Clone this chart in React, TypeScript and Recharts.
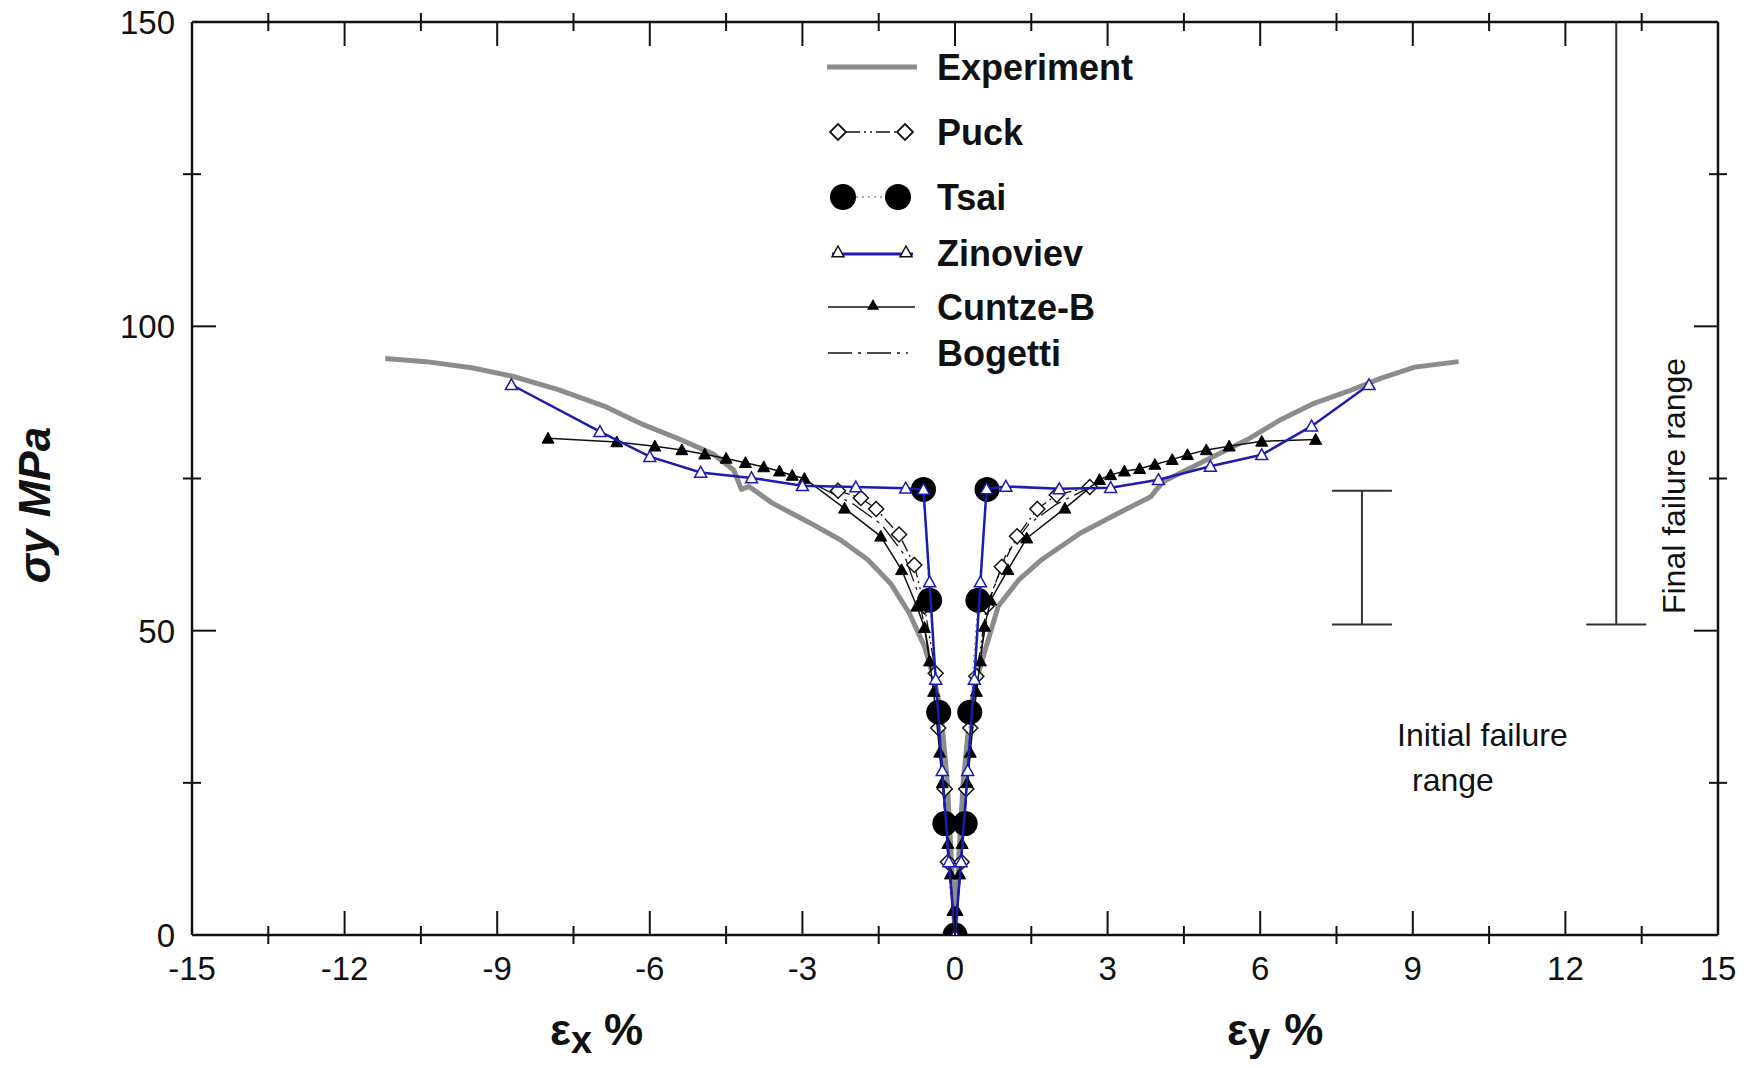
import React from "react";
import { ScatterChart, Scatter, XAxis, YAxis, ErrorBar } from "recharts";

const FONT = '"Liberation Sans", Arial, Helvetica, sans-serif';
const INK = "#111";
const BLUE = "#1c1cb0";
const GREY = "#8c8c8c";

// tick values
const xTicks = [-15, -13.5, -12, -10.5, -9, -7.5, -6, -4.5, -3, -1.5, 0, 1.5, 3, 4.5, 6, 7.5, 9, 10.5, 12, 13.5, 15];
const yTicks = [0, 25, 50, 75, 100, 125, 150];

// [strain %, stress MPa]; negative strain = eps_x branch, positive = eps_y branch
const experimentLeft = [
  [-11.2, 94.7], [-10.4, 94.2], [-9.5, 93.2], [-8.7, 91.8], [-7.8, 89.6], [-6.9, 86.9],
  [-6.2, 84.1], [-5.4, 81.4], [-4.75, 79], [-4.35, 76.4], [-4.2, 73.2], [-4.05, 73.7],
  [-3.6, 71], [-2.85, 67.7], [-2.25, 64.9], [-1.72, 61.7], [-1.27, 57.8], [-0.9, 52.9],
  [-0.6, 47.4], [-0.41, 42], [-0.28, 37], [-0.15, 25], [-0.07, 12], [0, 0],
];
const experimentRight = [
  [0.07, 12], [0.16, 25], [0.3, 37], [0.41, 41.5], [0.6, 47], [0.85, 54], [1.26, 58.4],
  [1.71, 61.7], [2.46, 66], [3.21, 69.3], [3.85, 72], [3.96, 73.2], [4.1, 74.5], [4.43, 75.9],
  [5.1, 78.7], [5.75, 81.4], [6.41, 84.7], [7.07, 87.4], [7.72, 89.3], [8.38, 91.5],
  [9.04, 93.3], [9.9, 94.2],
];

const puckLeft = [
  [-2.3, 73.0], [-1.85, 71.8], [-1.55, 70.0], [-1.1, 65.8], [-0.8, 60.8], [-0.6, 54],
  [-0.38, 43], [-0.33, 34], [-0.2, 24], [-0.14, 12], [0, 0],
];
const puckRight = [
  [0.13, 12], [0.22, 24], [0.3, 34], [0.42, 42.5], [0.62, 54], [0.92, 60.5], [1.22, 65.5],
  [1.62, 70], [2.0, 72.3], [2.65, 73.6],
];

const tsaiPoints = [
  [-0.62, 73.2], [-0.5, 55], [-0.32, 36.6], [-0.2, 18.3], [0, 0], [0.2, 18.3],
  [0.29, 36.6], [0.45, 55], [0.63, 73.2],
];

const zinovievLeft = [
  [-8.72, 90.4], [-6.98, 82.7], [-6.0, 78.6], [-5.0, 76.0], [-4.0, 75.1], [-3.0, 73.8],
  [-1.95, 73.6], [-0.97, 73.4], [-0.62, 73.2], [-0.5, 58], [-0.38, 42], [-0.25, 27],
  [-0.12, 12], [0, 0],
];
const zinovievRight = [
  [0.12, 12], [0.25, 27], [0.38, 42], [0.5, 58], [0.62, 73.3], [1.0, 73.7], [2.05, 73.3],
  [3.06, 73.5], [4.0, 74.8], [5.02, 77.0], [6.03, 78.9], [7.01, 83.6], [8.14, 90.4],
];

const cuntzeLeft = [
  [-8.0, 81.6], [-6.65, 81.0], [-5.9, 80.3], [-5.37, 79.7], [-4.92, 79.0], [-4.5, 78.3],
  [-4.12, 77.6], [-3.76, 76.9], [-3.45, 76.2], [-3.2, 75.5], [-2.96, 75.0], [-2.17, 70.1],
  [-1.46, 65.5], [-1.05, 60], [-0.75, 54], [-0.6, 50.5], [-0.5, 45], [-0.42, 40],
  [-0.3, 30], [-0.25, 25], [-0.14, 15], [-0.09, 10], [-0.04, 4], [0, 0],
];
const cuntzeRight = [
  [0.04, 4], [0.09, 10], [0.14, 15], [0.24, 25], [0.3, 30], [0.42, 40], [0.5, 45],
  [0.58, 50.7], [0.7, 55], [1.04, 60], [1.41, 65.2], [2.16, 70.1], [2.84, 74.8], [3.06, 75.6],
  [3.33, 76.2], [3.63, 76.6], [3.93, 77.3], [4.27, 78.1], [4.57, 78.9], [4.94, 79.7],
  [5.39, 80.3], [6.03, 81.1], [7.09, 81.4],
];

const bogettiLeft = [
  [-2.7, 73.8], [-2.0, 70.8], [-1.45, 67.5], [-1.0, 62.5], [-0.72, 56], [-0.52, 47],
  [-0.36, 36], [-0.22, 22], [-0.1, 10], [0, 0],
];
const bogettiRight = [
  [0.1, 10], [0.22, 22], [0.36, 36], [0.52, 47], [0.72, 56], [1.0, 62.5], [1.45, 67.5],
  [2.0, 70.8], [2.7, 73.8],
];

// [x, low, high]
const initialRange = [8, 51, 73];
const finalRange = [13, 51, 150];

const pts = (arr: number[][]) => arr.map(([x, y]) => ({ x, y }));
const rangePoint = ([x, lo, hi]: number[]) => ({ x, y: lo, err: [0, hi - lo] });

const experiment = pts([...experimentLeft, ...experimentRight]);
const puck = pts([...puckLeft, ...puckRight]);
const tsai = pts(tsaiPoints);
const zinoviev = pts([...zinovievLeft, ...zinovievRight]);
const cuntze = pts([...cuntzeLeft, ...cuntzeRight]);
const bogetti = pts([...bogettiLeft, ...bogettiRight]);
const ranges = [rangePoint(initialRange), rangePoint(finalRange)];

const isMajorX = (v: number) => Math.abs(v % 3) < 1e-6;
const isMajorY = (v: number) => Math.abs(v % 50) < 1e-6;

function BottomTick(props: any) {
  const { x, y, payload } = props;
  const major = isMajorX(payload.value);
  return (
    <g>
      {major ? (
        <line x1={x} x2={x} y1={y} y2={y - 24} stroke={INK} strokeWidth={2} />
      ) : (
        <line x1={x} x2={x} y1={y - 9} y2={y + 9} stroke={INK} strokeWidth={2} />
      )}
      {major && (
        <text x={x} y={y + 45} textAnchor="middle" fontSize={33} fontFamily={FONT} fill={INK}>
          {payload.value}
        </text>
      )}
    </g>
  );
}

function TopTick(props: any) {
  const { x, y, payload } = props;
  const major = isMajorX(payload.value);
  return major ? (
    <line x1={x} x2={x} y1={y} y2={y + 24} stroke={INK} strokeWidth={2} />
  ) : (
    <line x1={x} x2={x} y1={y - 9} y2={y + 9} stroke={INK} strokeWidth={2} />
  );
}

function LeftTick(props: any) {
  const { x, y, payload } = props;
  const major = isMajorY(payload.value);
  return (
    <g>
      {major ? (
        <line x1={x} x2={x + 24} y1={y} y2={y} stroke={INK} strokeWidth={2} />
      ) : (
        <line x1={x - 9} x2={x + 9} y1={y} y2={y} stroke={INK} strokeWidth={2} />
      )}
      {major && (
        <text x={x - 17} y={y + 12} textAnchor="end" fontSize={33} fontFamily={FONT} fill={INK}>
          {payload.value}
        </text>
      )}
    </g>
  );
}

function RightTick(props: any) {
  const { x, y, payload } = props;
  const major = isMajorY(payload.value);
  return major ? (
    <line x1={x} x2={x - 24} y1={y} y2={y} stroke={INK} strokeWidth={2} />
  ) : (
    <line x1={x - 9} x2={x + 9} y1={y} y2={y} stroke={INK} strokeWidth={2} />
  );
}

const Nothing = () => <g />;

const diamondPath = (cx: number, cy: number, s: number) =>
  `M${cx},${cy - s}L${cx + s},${cy}L${cx},${cy + s}L${cx - s},${cy}Z`;
const trianglePath = (cx: number, cy: number, s: number) =>
  `M${cx},${cy - s}L${cx + s},${cy + s * 0.8}L${cx - s},${cy + s * 0.8}Z`;

const Diamond = (p: any) => (
  <path d={diamondPath(p.cx, p.cy, 7.5)} fill="#fff" stroke={INK} strokeWidth={1.5} />
);
const Dot = (p: any) => <circle cx={p.cx} cy={p.cy} r={12.5} fill="#000" />;
const OpenTri = (p: any) => (
  <path d={trianglePath(p.cx, p.cy, 6)} fill="#fff" stroke={BLUE} strokeWidth={1.5} />
);
const FilledTri = (p: any) => <path d={trianglePath(p.cx, p.cy, 6)} fill="#000" stroke="#000" strokeWidth={1} />;

function Legend() {
  const textProps = { fontSize: 36, fontWeight: 700, fontFamily: FONT, fill: INK };
  const tx = 937;
  return (
    <g>
      <line x1={827} x2={917} y1={67} y2={67} stroke={GREY} strokeWidth={5} />
      <text x={tx} y={80} {...textProps}>Experiment</text>

      <line x1={846} x2={897} y1={132} y2={132} stroke={INK} strokeWidth={1.5} strokeDasharray="14 4 2 4 2 4" />
      <path d={diamondPath(838, 132, 8)} fill="#fff" stroke={INK} strokeWidth={1.8} />
      <path d={diamondPath(905, 132, 8)} fill="#fff" stroke={INK} strokeWidth={1.8} />
      <text x={tx} y={145} {...textProps}>Puck</text>

      <line x1={856} x2={885} y1={197} y2={197} stroke={GREY} strokeWidth={1.5} strokeDasharray="2 4" />
      <circle cx={843} cy={197} r={13} fill="#000" />
      <circle cx={898} cy={197} r={13} fill="#000" />
      <text x={tx} y={210} {...textProps}>Tsai</text>

      <line x1={832} x2={913} y1={254} y2={254} stroke={BLUE} strokeWidth={3} />
      <path d={trianglePath(838, 252, 6)} fill="#fff" stroke={INK} strokeWidth={1.5} />
      <path d={trianglePath(906, 252, 6)} fill="#fff" stroke={INK} strokeWidth={1.5} />
      <text x={tx} y={266} {...textProps}>Zinoviev</text>

      <line x1={828} x2={915} y1={307} y2={307} stroke={INK} strokeWidth={1.5} />
      <path d={trianglePath(873, 305, 6)} fill="#000" />
      <text x={tx} y={320} {...textProps}>Cuntze-B</text>

      <line x1={828} x2={908} y1={353} y2={353} stroke={INK} strokeWidth={1.3} strokeDasharray="24 6 3 6" />
      <text x={tx} y={366} {...textProps}>Bogetti</text>
    </g>
  );
}

function Annotations() {
  const label = { fontFamily: FONT, fill: INK, fontWeight: 700 };
  return (
    <g>
      <text transform="translate(50,505) rotate(-90)" textAnchor="middle" fontSize={44} fontStyle="italic" {...label}>
        σy MPa
      </text>
      <text x={550} y={1045} fontSize={44} {...label}>
        ε<tspan fontSize={38} dy={8}>x</tspan>
        <tspan dy={-8} dx={12}>%</tspan>
      </text>
      <text x={1227} y={1045} fontSize={44} {...label}>
        ε<tspan fontSize={40} dy={6}>y</tspan>
        <tspan dy={-6} dx={14}>%</tspan>
      </text>
      <text x={1397} y={746} fontSize={32} fontFamily={FONT} fill={INK}>Initial failure</text>
      <text x={1412} y={791} fontSize={32} fontFamily={FONT} fill={INK}>range</text>
      <text transform="translate(1685,486) rotate(-90)" textAnchor="middle" fontSize={32} fontFamily={FONT} fill={INK}>
        Final failure range
      </text>
    </g>
  );
}

export default function App() {
  return (
    <div style={{ position: "absolute", left: 0, top: 0, width: 1746, height: 1068, background: "#fff" }}>
      <ScatterChart width={1746} height={1068} margin={{ top: 21, right: 27, bottom: 0, left: 0 }}>
        <XAxis
          type="number"
          dataKey="x"
          domain={[-15, 15]}
          ticks={xTicks}
          interval={0}
          allowDataOverflow
          height={133}
          tickSize={0}
          tickMargin={0}
          tickLine={false}
          axisLine={{ stroke: INK, strokeWidth: 2.5 }}
          tick={<BottomTick />}
        />
        <XAxis
          xAxisId="top"
          orientation="top"
          type="number"
          dataKey="x"
          domain={[-15, 15]}
          ticks={xTicks}
          interval={0}
          allowDataOverflow
          height={1}
          tickSize={0}
          tickMargin={0}
          tickLine={false}
          axisLine={{ stroke: INK, strokeWidth: 2.5 }}
          tick={<TopTick />}
        />
        <YAxis
          type="number"
          dataKey="y"
          domain={[0, 150]}
          ticks={yTicks}
          interval={0}
          allowDataOverflow
          width={192}
          tickSize={0}
          tickMargin={0}
          tickLine={false}
          axisLine={{ stroke: INK, strokeWidth: 2.5 }}
          tick={<LeftTick />}
        />
        <YAxis
          yAxisId="right"
          orientation="right"
          type="number"
          dataKey="y"
          domain={[0, 150]}
          ticks={yTicks}
          interval={0}
          allowDataOverflow
          width={1}
          tickSize={0}
          tickMargin={0}
          tickLine={false}
          axisLine={{ stroke: INK, strokeWidth: 2.5 }}
          tick={<RightTick />}
        />

        <Scatter data={ranges} shape={Nothing} isAnimationActive={false}>
          <ErrorBar dataKey="err" direction="y" width={30} stroke="#333" strokeWidth={2} isAnimationActive={false} />
        </Scatter>

        <Scatter
          data={experiment}
          shape={Nothing}
          line={{ stroke: GREY, strokeWidth: 5, strokeLinejoin: "round" }}
          lineType="joint"
          isAnimationActive={false}
        />
        <Scatter
          data={bogetti}
          shape={Nothing}
          line={{ stroke: INK, strokeWidth: 1.3, strokeDasharray: "24 6 3 6" }}
          lineType="joint"
          isAnimationActive={false}
        />
        <Scatter
          data={puck}
          shape={Diamond}
          line={{ stroke: INK, strokeWidth: 1.3, strokeDasharray: "12 4 2 4 2 4" }}
          lineType="joint"
          isAnimationActive={false}
        />
        <Scatter
          data={cuntze}
          shape={FilledTri}
          line={{ stroke: INK, strokeWidth: 1.5 }}
          lineType="joint"
          isAnimationActive={false}
        />
        <Scatter
          data={tsai}
          shape={Dot}
          line={{ stroke: GREY, strokeWidth: 1.2, strokeDasharray: "2 4" }}
          lineType="joint"
          isAnimationActive={false}
        />
        <Scatter
          data={zinoviev}
          shape={OpenTri}
          line={{ stroke: BLUE, strokeWidth: 2.5 }}
          lineType="joint"
          isAnimationActive={false}
        />
      </ScatterChart>
      <svg
        width={1746}
        height={1068}
        style={{ position: "absolute", left: 0, top: 0, pointerEvents: "none" }}
      >
        <Legend />
        <Annotations />
      </svg>
    </div>
  );
}
